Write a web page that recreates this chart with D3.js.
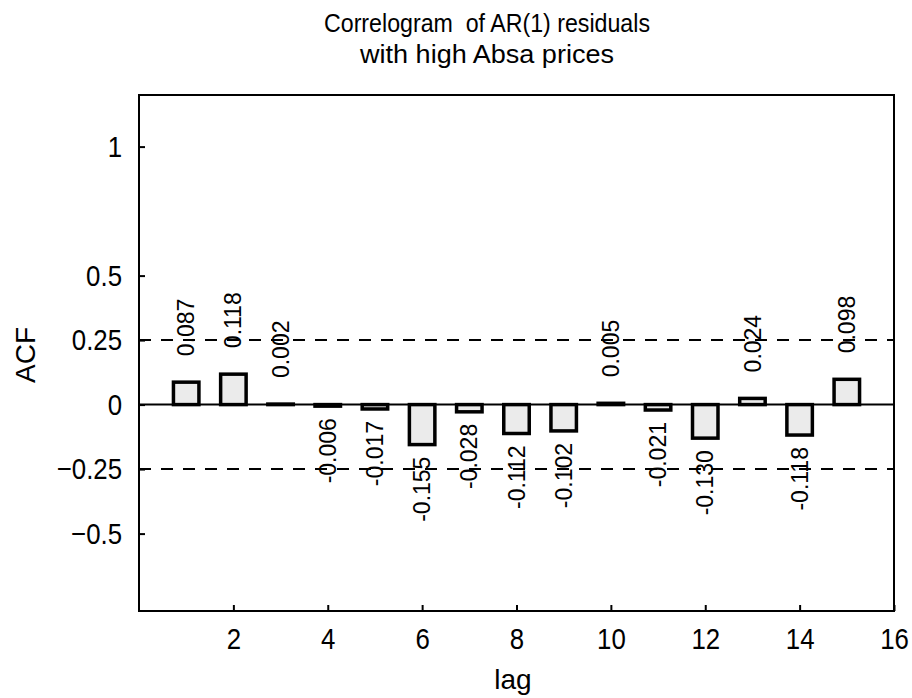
<!DOCTYPE html>
<html>
<head>
<meta charset="utf-8">
<script src="https://cdn.jsdelivr.net/npm/d3@7"></script>
<style>
  body { margin: 0; background: #fff; }
  text { font-family: "Liberation Sans", Arial, sans-serif; fill: #000; }
</style>
</head>
<body>
<svg id="chart" width="912" height="698"></svg>
<script>
// Autocorrelations of the AR(1) residuals, lags 1..15
const lags = [1, 2, 3, 4, 5, 6, 7, 8, 9, 10, 11, 12, 13, 14, 15];
const acf = [0.087, 0.118, 0.002, -0.006, -0.017, -0.155, -0.028, -0.112,
             -0.102, 0.005, -0.021, -0.130, 0.024, -0.118, 0.098];
// Approximate significance bounds
const bounds = [0.25, -0.25];
const xTicks = [2, 4, 6, 8, 10, 12, 14, 16];
const yTicks = [1, 0.5, 0.25, 0, -0.25, -0.5];
const yTickLabels = ["1", "0.5", "0.25", "0", "\u22120.25", "\u22120.5"];
const titleLines = ["Correlogram  of AR(1) residuals", "with high Absa prices"];
const titleWidths = [326, 254];

const svg = d3.select("#chart");
const plot = { left: 139, right: 894, top: 95, bottom: 611 };

const x = d3.scaleLinear().domain([0, 16]).range([plot.left, plot.right]);
const y = d3.scaleLinear().domain([-0.8, 1.2]).range([plot.bottom, plot.top]);

const fmt = d3.formatLocale({ decimal: ".", thousands: ",", grouping: [3],
                              currency: ["", ""], minus: "-" }).format(".3f");

// Squeeze a text horizontally to give the tall, narrow look of the lettering
function condense(sel, k) {
  sel.each(function () {
    const w = this.getComputedTextLength();
    d3.select(this).attr("textLength", w * k).attr("lengthAdjust", "spacingAndGlyphs");
  });
}

// Title
svg.append("g").selectAll("text").data(titleLines).join("text")
  .attr("x", 487)
  .attr("y", (d, i) => 32 + i * 31)
  .attr("text-anchor", "middle")
  .style("white-space", "pre")
  .style("font-size", "25px")
  .attr("textLength", (d, i) => titleWidths[i])
  .attr("lengthAdjust", "spacingAndGlyphs")
  .text(d => d);

// Axes (ticks point into the plot area)
const yAxis = svg.append("g")
  .attr("transform", `translate(${plot.left},0)`)
  .call(d3.axisLeft(y).tickValues(yTicks).tickSize(-6).tickPadding(17)
    .tickFormat((d, i) => yTickLabels[i]));
const xAxis = svg.append("g")
  .attr("transform", `translate(0,${plot.bottom})`)
  .call(d3.axisBottom(x).tickValues(xTicks).tickSize(-6).tickPadding(17)
    .tickFormat(d3.format("d")));
[yAxis, xAxis].forEach(g => {
  g.select(".domain").remove();
  g.selectAll(".tick line").attr("stroke", "#000").attr("stroke-width", 2);
  g.selectAll(".tick text").style("font-size", "30px").attr("fill", "#000")
    .call(condense, 0.86);
});

// Significance bounds
svg.append("g").selectAll("line").data(bounds).join("line")
  .attr("x1", plot.left).attr("x2", plot.right)
  .attr("y1", d => y(d)).attr("y2", d => y(d))
  .attr("stroke", "#000").attr("stroke-width", 2)
  .attr("stroke-dasharray", "12,10");

// Bars
const bw = 0.54 * (x(1) - x(0));
svg.append("g").selectAll("rect").data(lags).join("rect")
  .attr("x", d => x(d) - bw / 2)
  .attr("y", (d, i) => y(Math.max(0, acf[i])))
  .attr("width", bw)
  .attr("height", (d, i) => Math.abs(y(acf[i]) - y(0)))
  .attr("fill", "#ebebeb")
  .attr("stroke", "#000")
  .attr("stroke-width", 3.5);

// Zero line
svg.append("line")
  .attr("x1", plot.left).attr("x2", plot.right)
  .attr("y1", y(0)).attr("y2", y(0))
  .attr("stroke", "#000").attr("stroke-width", 2);

// Value labels, rotated, above positive and below negative bars
svg.append("g").selectAll("text").data(lags).join("text")
  .attr("transform", (d, i) => acf[i] >= 0
    ? `translate(${x(d)},${y(acf[i]) - 26}) rotate(-90)`
    : `translate(${x(d)},${y(acf[i]) + 12}) rotate(-90)`)
  .attr("text-anchor", (d, i) => acf[i] >= 0 ? "start" : "end")
  .attr("dy", "0.35em")
  .style("font-size", "23px")
  .text((d, i) => fmt(acf[i]));

// Frame
svg.append("rect")
  .attr("x", plot.left).attr("y", plot.top)
  .attr("width", plot.right - plot.left).attr("height", plot.bottom - plot.top)
  .attr("fill", "none").attr("stroke", "#000").attr("stroke-width", 2);

// Axis titles
svg.append("text")
  .attr("transform", "translate(35,355) rotate(-90)")
  .attr("text-anchor", "middle")
  .style("font-size", "28px")
  .text("ACF");
svg.append("text")
  .attr("x", 513).attr("y", 689)
  .attr("text-anchor", "middle")
  .style("font-size", "28px")
  .text("lag");
</script>
</body>
</html>
